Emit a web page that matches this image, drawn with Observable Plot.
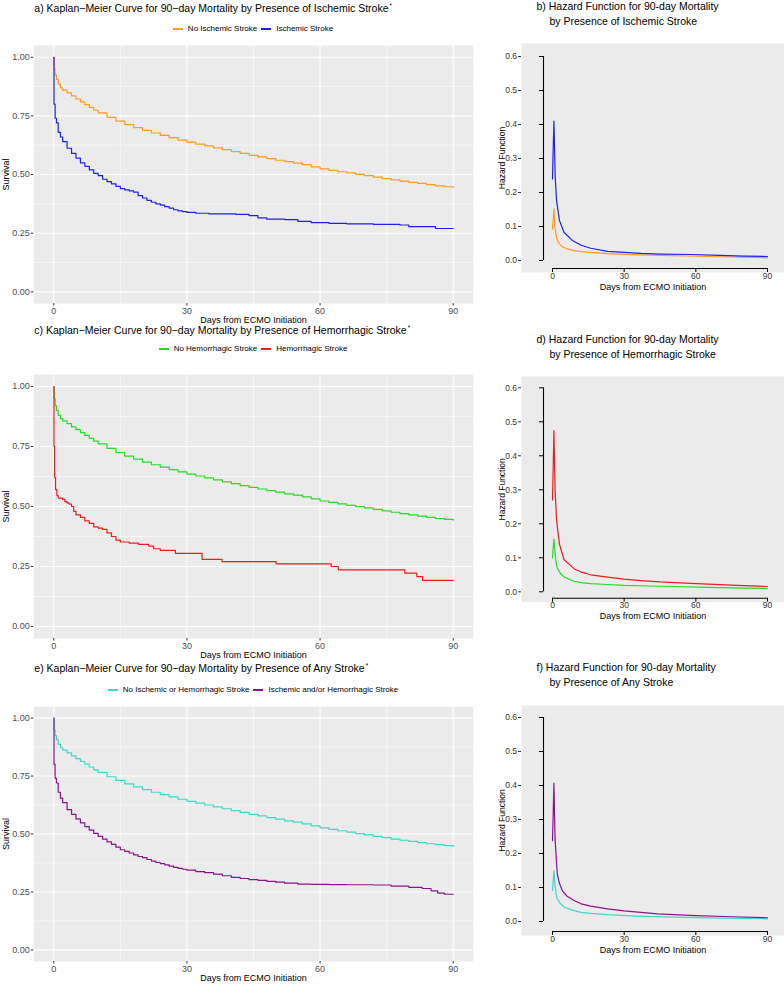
<!DOCTYPE html>
<html><head><meta charset="utf-8">
<script src="https://cdn.jsdelivr.net/npm/d3@7"></script>
<script src="https://cdn.jsdelivr.net/npm/@observablehq/plot@0.6"></script>
<style>
body{margin:0;background:#fff;}
#root{position:relative;width:784px;height:986px;overflow:hidden;font-family:"Liberation Sans",Arial,Helvetica,sans-serif;color:#000;background:#fff;}
.t{position:absolute;white-space:nowrap;line-height:1;}
.t sup{font-size:0.6em;vertical-align:0.6em;margin-left:1px}
.legend{position:absolute;display:flex;justify-content:center;align-items:center;font-size:8px;line-height:1;white-space:nowrap}
.item{display:flex;align-items:center;margin:0 2px}
.sw{display:inline-block;width:10px;height:1.6px;margin-right:5px}
</style></head><body><div id="root"></div>
<script>
// ---------- tick values ----------
const kmTicksX = [0, 30, 60, 90];
const kmMinorX = [15, 45, 75];
const kmTicksY = [0, 0.25, 0.5, 0.75, 1];
const kmMinorY = [0.125, 0.375, 0.625, 0.875];
const hzTicksX = [0, 30, 60, 90];
const hzTicksY = [0, 0.1, 0.2, 0.3, 0.4, 0.5, 0.6];

// ---------- Kaplan-Meier survival [day, survival] ----------
const kmNoIschemic = [[0,1],[0.1,0.95],[0.3,0.925],[0.6,0.905],[1,0.885],[1.5,0.87],[2,0.86],[3,0.848],[4,0.835],[5,0.822],[6,0.81],[7,0.798],[8,0.786],[9,0.774],[10,0.763],[12,0.744],[14,0.728],[16,0.713],[18,0.7],[20,0.688],[22,0.677],[24,0.667],[26,0.657],[28,0.647],[30,0.638],[32,0.63],[34,0.622],[36,0.614],[38,0.606],[40,0.598],[42,0.59],[44,0.582],[46,0.575],[48,0.568],[50,0.561],[52,0.555],[54,0.549],[56,0.542],[58,0.533],[60,0.524],[62,0.518],[64,0.512],[66,0.507],[68,0.501],[70,0.495],[72,0.489],[74,0.483],[76,0.477],[78,0.472],[80,0.467],[82,0.462],[84,0.457],[86,0.452],[88,0.448],[90,0.444]];
const kmIschemic = [[0,1],[0.05,0.8],[0.3,0.74],[0.6,0.72],[1,0.68],[1.5,0.66],[2,0.64],[3,0.612],[4,0.59],[5,0.57],[6,0.55],[7,0.535],[8,0.52],[9,0.505],[10,0.495],[11,0.48],[12,0.47],[13,0.46],[14,0.45],[15,0.44],[16,0.435],[17,0.43],[18,0.425],[19,0.41],[20,0.4],[21,0.39],[22,0.382],[23,0.375],[24,0.37],[25,0.363],[26,0.357],[27,0.35],[28,0.345],[29,0.342],[30,0.339],[32,0.335],[35,0.332],[38,0.332],[41,0.33],[44,0.325],[46,0.315],[48,0.31],[52,0.308],[55,0.3],[58,0.295],[62,0.292],[66,0.29],[72,0.288],[78,0.285],[80,0.278],[84,0.278],[86,0.27],[90,0.27]];
const kmNoHemorrhagic = [[0,1],[0.1,0.95],[0.3,0.92],[0.6,0.9],[1,0.88],[1.5,0.866],[2,0.857],[3,0.845],[4,0.832],[5,0.82],[6,0.808],[7,0.796],[8,0.784],[9,0.772],[10,0.761],[12,0.742],[14,0.725],[16,0.71],[18,0.697],[20,0.685],[22,0.674],[24,0.664],[26,0.654],[28,0.644],[30,0.635],[32,0.627],[34,0.619],[36,0.611],[38,0.603],[40,0.595],[42,0.587],[44,0.58],[46,0.573],[48,0.566],[50,0.56],[52,0.553],[54,0.547],[56,0.54],[58,0.532],[60,0.523],[62,0.517],[64,0.511],[66,0.505],[68,0.5],[70,0.494],[72,0.488],[74,0.482],[76,0.476],[78,0.47],[80,0.465],[82,0.46],[84,0.455],[86,0.45],[88,0.446],[90,0.443]];
const kmHemorrhagic = [[0,1],[0.05,0.75],[0.2,0.62],[0.4,0.57],[0.7,0.545],[1,0.535],[2,0.53],[2.5,0.52],[3,0.515],[3.5,0.51],[4,0.5],[4.5,0.48],[5,0.465],[6,0.455],[7,0.44],[8,0.43],[9,0.415],[10,0.41],[11,0.405],[12,0.39],[13,0.375],[14,0.36],[15,0.352],[17,0.347],[19.1,0.342],[21.4,0.335],[22.5,0.324],[24,0.317],[27.4,0.305],[33.4,0.28],[37.9,0.27],[50.1,0.261],[62.5,0.25],[64.1,0.236],[79.1,0.222],[81.8,0.208],[83.1,0.192],[90,0.192]];
const kmNoStroke = [[0,1],[0.1,0.95],[0.3,0.925],[0.6,0.907],[1,0.887],[1.5,0.872],[2,0.862],[3,0.85],[4,0.837],[5,0.825],[6,0.813],[7,0.801],[8,0.789],[9,0.777],[10,0.766],[12,0.747],[14,0.731],[16,0.716],[18,0.703],[20,0.691],[22,0.68],[24,0.67],[26,0.66],[28,0.65],[30,0.641],[32,0.633],[34,0.625],[36,0.617],[38,0.609],[40,0.601],[42,0.593],[44,0.585],[46,0.578],[48,0.571],[50,0.564],[52,0.557],[54,0.551],[56,0.544],[58,0.535],[60,0.526],[62,0.52],[64,0.514],[66,0.508],[68,0.502],[70,0.496],[72,0.49],[74,0.484],[76,0.478],[78,0.473],[80,0.468],[82,0.463],[84,0.458],[86,0.454],[88,0.45],[90,0.446]];
const kmAnyStroke = [[0,1],[0.05,0.8],[0.3,0.74],[0.6,0.72],[1,0.68],[1.5,0.655],[2,0.635],[3,0.605],[4,0.585],[5,0.565],[6,0.548],[7,0.532],[8,0.517],[9,0.503],[10,0.49],[11,0.478],[12,0.466],[13,0.455],[14,0.443],[15,0.432],[16,0.425],[17,0.418],[18,0.41],[19,0.403],[20,0.398],[21,0.39],[22,0.383],[23,0.377],[24,0.372],[25,0.367],[26,0.361],[27,0.356],[28,0.352],[29,0.348],[30,0.344],[32,0.338],[34,0.333],[36,0.327],[38,0.32],[40,0.313],[42,0.308],[44,0.303],[46,0.3],[48,0.296],[50,0.292],[52,0.288],[55,0.284],[58,0.283],[62,0.282],[66,0.281],[72,0.28],[76,0.275],[80,0.27],[83,0.265],[85,0.255],[86.5,0.245],[88,0.24],[90,0.24]];

// ---------- hazard functions [day, hazard] ----------
const hzNoIschemic = [[0,0.093],[0.3,0.12],[0.6,0.152],[1,0.1],[1.5,0.075],[2,0.059],[3,0.048],[4,0.041],[6.2,0.034],[9,0.029],[12,0.026],[16,0.024],[23,0.02],[30,0.018],[37,0.0167],[50,0.014],[65,0.0118],[80,0.0095],[90,0.008]];
const hzIschemic = [[0,0.24],[0.3,0.33],[0.6,0.41],[0.8,0.35],[1.1,0.25],[1.7,0.176],[2.9,0.118],[4.8,0.083],[8.3,0.059],[12,0.045],[16,0.036],[23,0.027],[30,0.024],[37,0.021],[45,0.019],[58,0.0176],[70,0.015],[80,0.013],[90,0.0118]];
const hzNoHemorrhagic = [[0,0.1],[0.3,0.13],[0.6,0.155],[1,0.12],[1.5,0.087],[2,0.07],[3.4,0.053],[5,0.043],[9,0.031],[12,0.027],[16,0.024],[23,0.0215],[30,0.019],[40,0.017],[51,0.0156],[65,0.013],[80,0.011],[90,0.0097]];
const hzHemorrhagic = [[0,0.27],[0.3,0.37],[0.6,0.474],[0.8,0.4],[1.1,0.3],[1.7,0.21],[2.9,0.14],[4.8,0.095],[9,0.068],[12,0.058],[16,0.05],[23,0.043],[30,0.037],[37,0.033],[45,0.029],[58,0.025],[70,0.021],[80,0.018],[90,0.0156]];
const hzNoStroke = [[0,0.091],[0.3,0.12],[0.6,0.15],[1,0.11],[1.5,0.08],[2,0.067],[3.4,0.052],[5,0.042],[9,0.032],[12,0.027],[16,0.024],[23,0.02],[35,0.016],[51,0.0127],[70,0.01],[90,0.008]];
const hzAnyStroke = [[0,0.238],[0.3,0.32],[0.6,0.407],[0.8,0.33],[1.1,0.24],[2,0.14],[3,0.11],[4.1,0.091],[6,0.075],[9,0.062],[12,0.052],[16,0.045],[23,0.037],[30,0.031],[44,0.0225],[60,0.017],[75,0.014],[90,0.011]];

// ---------- labels & colours ----------
const kmTitles = ["a) Kaplan\u2212Meier Curve for 90\u2212day Mortality by Presence of Ischemic Stroke",
  "c) Kaplan\u2212Meier Curve for 90\u2212day Mortality by Presence of Hemorrhagic Stroke",
  "e) Kaplan\u2212Meier Curve for 90\u2212day Mortality by Presence of Any Stroke"];
const hzTitles1 = ["b) Hazard Function for 90-day Mortality", "d) Hazard Function for 90-day Mortality", "f) Hazard Function for 90-day Mortality"];
const hzTitles2 = ["by Presence of Ischemic Stroke", "by Presence of Hemorrhagic Stroke", "by Presence of Any Stroke"];
const groupNames = [["No Ischemic Stroke", "Ischemic Stroke"], ["No Hemorrhagic Stroke", "Hemorrhagic Stroke"], ["No Ischemic or Hemorrhagic Stroke", "Ischemic and/or Hemorrhagic Stroke"]];
const groupColors = [["#FF9A1A", "#1F1FF0"], ["#22DD22", "#F01A1A"], ["#3ED8C8", "#8B128B"]];
const kmSeries = [[kmNoIschemic, kmIschemic], [kmNoHemorrhagic, kmHemorrhagic], [kmNoStroke, kmAnyStroke]];
const hzSeries = [[hzNoIschemic, hzIschemic], [hzNoHemorrhagic, hzHemorrhagic], [hzNoStroke, hzAnyStroke]];
const xLabel = "Days from ECMO Initiation";

const FONT = '"Liberation Sans", Arial, Helvetica, sans-serif';
const root = document.getElementById("root");

// layout of each row (pixel geometry)
const rows = [
  {kmTop: 45.3, kmBottom: 303.4, kmTitleY: 8.5, legendY: 29, hzTop: 43, hzBottom: 272, hz0: 260, hz6: 56, hzT1: 7, hzT2: 22},
  {kmTop: 374, kmBottom: 638, kmTitleY: 331, legendY: 349, hzTop: 376, hzBottom: 601.7, hz0: 591.3, hz6: 387.3, hzT1: 340, hzT2: 355},
  {kmTop: 706, kmBottom: 961, kmTitleY: 668.5, legendY: 690, hzTop: 705, hzBottom: 935, hz0: 921, hz6: 717, hzT1: 667.5, hzT2: 682.5}
];

function addText(html, left, cy, size) {
  const d = document.createElement("div");
  d.className = "t";
  d.style.left = left + "px";
  d.style.top = (cy - 0.55 * size) + "px";
  d.style.fontSize = size + "px";
  d.innerHTML = html;
  root.appendChild(d);
}

function addLegend(names, colors, cy) {
  const d = document.createElement("div");
  d.className = "legend";
  d.style.left = "33.3px"; d.style.width = "439.4px";
  d.style.top = (cy - 5) + "px"; d.style.height = "10px";
  names.forEach((n, i) => {
    const it = document.createElement("div"); it.className = "item";
    const sw = document.createElement("span"); sw.className = "sw"; sw.style.background = colors[i];
    const tx = document.createElement("span"); tx.textContent = n;
    it.appendChild(sw); it.appendChild(tx); d.appendChild(it);
  });
  root.appendChild(d);
}

function toRows(series, names) {
  return series.flatMap((s, k) => s.map(([day, v]) => ({day, v, group: names[k]})));
}

function kmPanel(r, series, names, colors) {
  const mt = 8, mb = 28;
  const plot = Plot.plot({
    width: 480, height: r.kmBottom - r.kmTop + mt + mb,
    marginLeft: 33.3, marginRight: 7.3, marginTop: mt, marginBottom: mb,
    style: {fontFamily: FONT, fontSize: "9px", background: "transparent", overflow: "visible", color: "#000"},
    x: {domain: [-4.5, 94.5]},
    y: {domain: [-0.05, 1.05]},
    color: {domain: names, range: colors},
    marks: [
      Plot.frame({fill: "#EBEBEB", stroke: "none"}),
      Plot.gridX(kmMinorX, {stroke: "#fff", strokeOpacity: 1, strokeWidth: 0.55}),
      Plot.gridY(kmMinorY, {stroke: "#fff", strokeOpacity: 1, strokeWidth: 0.55}),
      Plot.gridX(kmTicksX, {stroke: "#fff", strokeOpacity: 1, strokeWidth: 1.1}),
      Plot.gridY(kmTicksY, {stroke: "#fff", strokeOpacity: 1, strokeWidth: 1.1}),
      Plot.axisX(kmTicksX, {tickSize: 2.5, tickPadding: 1.5, stroke: "#333", fill: "#4D4D4D", label: null}),
      Plot.axisY(kmTicksY, {tickSize: 2.5, tickPadding: 1.5, stroke: "#333", fill: "#4D4D4D", tickFormat: d => d.toFixed(2), label: null}),
      Plot.axisX({ticks: [], tickSize: 0, label: xLabel, labelAnchor: "center", labelArrow: "none", labelOffset: 19, fill: "#000"}),
      Plot.axisY({ticks: [], tickSize: 0, label: "Survival", labelAnchor: "center", labelArrow: "none", labelOffset: 31.3, fill: "#000"}),
      Plot.line(toRows(series, names), {x: "day", y: "v", z: "group", stroke: "group", curve: "step-after", strokeWidth: 1.2})
    ]
  });
  plot.style.position = "absolute";
  plot.style.left = "0px";
  plot.style.top = (r.kmTop - mt) + "px";
  root.appendChild(plot);
}

function hzPanel(r, series, names, colors) {
  const ppu = (r.hz0 - r.hz6) / 0.6;
  const yDom = [-(r.hzBottom - r.hz0) / ppu, 0.6 + (r.hz6 - r.hzTop) / ppu];
  const left = 521, right = 784, x0 = 552, x90 = 767;
  const axisShift = 22, axisLift = -4;
  const ppd = (x90 - x0) / 90;
  const xDom = [-(x0 - left) / ppd, 90 + (right - x90) / ppd];
  const svgLeft = 480, mt = 6, mb = 30;
  const plot = Plot.plot({
    width: right - svgLeft, height: r.hzBottom - r.hzTop + mt + mb,
    marginLeft: left - svgLeft, marginRight: 0, marginTop: mt, marginBottom: mb,
    style: {fontFamily: FONT, fontSize: "8.5px", background: "transparent", overflow: "visible", color: "#000"},
    x: {domain: xDom},
    y: {domain: yDom},
    color: {domain: names, range: colors},
    marks: [
      Plot.frame({fill: "#EBEBEB", stroke: "none"}),
      // ggplot-style ticks and labels at the panel edge
      Plot.axisY(hzTicksY, {tickSize: 3, tickPadding: 1.5, stroke: "#333", fill: "#333", tickFormat: d => d.toFixed(1), label: null}),
      Plot.axisX(hzTicksX, {tickSize: 0, tickPadding: 0, fill: "#333", label: null}),
      // black axis lines drawn inside the panel
      Plot.ruleX([xDom[0]], {y1: d3.min(hzTicksY), y2: d3.max(hzTicksY), dx: axisShift, stroke: "#000", strokeWidth: 1.1}),
      Plot.ruleY(hzTicksY, {x1: xDom[0], x2: xDom[0] + 4 / ppd, dx: axisShift - 4, stroke: "#000", strokeWidth: 1}),
      Plot.ruleY([yDom[0]], {x1: d3.min(hzTicksX), x2: d3.max(hzTicksX), dy: axisLift, stroke: "#000", strokeWidth: 1.1}),
      Plot.ruleX(hzTicksX, {y1: yDom[0], y2: yDom[0] + 4 / ppu, dy: axisLift + 4, stroke: "#000", strokeWidth: 1}),
      Plot.axisX({ticks: [], tickSize: 0, label: xLabel, labelAnchor: "center", labelArrow: "none", labelOffset: 17.2, fill: "#000", fontSize: 9}),
      Plot.axisY({ticks: [], tickSize: 0, label: "Hazard Function", labelAnchor: "center", labelArrow: "none", labelOffset: 22.5, fill: "#000", fontSize: 8.5}),
      Plot.line(toRows(series, names), {x: "day", y: "v", z: "group", stroke: "group", strokeWidth: 1.2})
    ]
  });
  plot.style.position = "absolute";
  plot.style.left = svgLeft + "px";
  plot.style.top = (r.hzTop - mt) + "px";
  root.appendChild(plot);
}

rows.forEach((r, i) => {
  kmPanel(r, kmSeries[i], groupNames[i], groupColors[i]);
  hzPanel(r, hzSeries[i], groupNames[i], groupColors[i]);
  addText(kmTitles[i] + "<sup>*</sup>", 34.3, r.kmTitleY, 10.5);
  addLegend(groupNames[i], groupColors[i], r.legendY);
  addText(hzTitles1[i], 536.5, r.hzT1, 10.5);
  addText(hzTitles2[i], 549.5, r.hzT2, 10.5);
});
</script></body></html>
